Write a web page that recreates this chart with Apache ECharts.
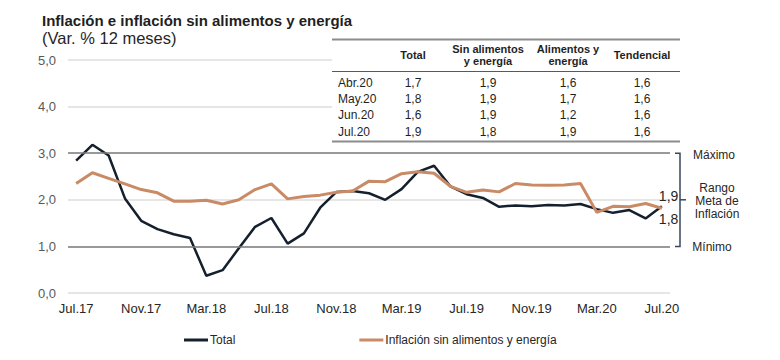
<!DOCTYPE html>
<html><head><meta charset="utf-8">
<script src="https://cdn.jsdelivr.net/npm/echarts@6.0.0/dist/echarts.min.js"></script>
<style>html,body{margin:0;padding:0;background:#fff}#c{width:780px;height:360px}</style>
</head><body><div id="c"></div>
<script>
const months = ['Jul.17','Ago.17','Set.17','Oct.17','Nov.17','Dic.17','Ene.18','Feb.18','Mar.18','Abr.18','May.18','Jun.18',
  'Jul.18','Ago.18','Set.18','Oct.18','Nov.18','Dic.18','Ene.19','Feb.19','Mar.19','Abr.19','May.19','Jun.19',
  'Jul.19','Ago.19','Set.19','Oct.19','Nov.19','Dic.19','Ene.20','Feb.20','Mar.20','Abr.20','May.20','Jun.20','Jul.20'];
const totalValues = [2.84,3.18,2.95,2.03,1.55,1.37,1.26,1.18,0.37,0.49,0.96,1.42,1.61,1.06,1.28,1.83,2.17,2.19,2.14,2.00,2.23,2.60,2.73,2.29,2.12,2.04,1.85,1.88,1.86,1.89,1.88,1.91,1.80,1.72,1.78,1.60,1.86];
const coreValues = [2.35,2.58,2.46,2.34,2.22,2.15,1.97,1.97,1.99,1.91,2.00,2.22,2.34,2.02,2.07,2.10,2.16,2.19,2.40,2.39,2.56,2.60,2.57,2.29,2.16,2.21,2.17,2.35,2.32,2.31,2.32,2.35,1.73,1.86,1.85,1.92,1.82];
const seriesNames = ['Total','Inflación sin alimentos y energía'];
const yMin = 0, yMax = 5, yStep = 1;
const rangeMax = 3, rangeMid = 2, rangeMin = 1;
const rangeLabels = ['Máximo','Rango\nMeta de\nInflación','Mínimo'];
const tableHeaders = ['Total','Sin alimentos\ny energía','Alimentos y\nenergía','Tendencial'];
const tableRows = ['Abr.20','May.20','Jun.20','Jul.20'];
const tabTotal = [1.7,1.8,1.6,1.9];
const tabSinAE = [1.9,1.9,1.9,1.8];
const tabAE = [1.6,1.7,1.2,1.9];
const tabTend = [1.6,1.6,1.6,1.6];

const FONT = 'Arial, "Liberation Sans", sans-serif';
const fmt = v => v.toFixed(1).replace('.', ',');
const chart = echarts.init(document.getElementById('c'), null, {renderer: 'svg'});

function endLabel(offset) {
  return {show: true, distance: 0, offset: offset, formatter: p => fmt(p.value),
    fontSize: 14, color: '#262626', fontFamily: FONT};
}

chart.setOption({
  animation: false,
  title: {
    text: 'Inflación e inflación sin alimentos y energía',
    subtext: '(Var. % 12 meses)',
    left: 37, top: 8, itemGap: 1,
    textStyle: {fontFamily: FONT, fontSize: 15, fontWeight: 'bold', color: '#1f1f1f'},
    subtextStyle: {fontFamily: FONT, fontSize: 16.5, color: '#262626'}
  },
  grid: {left: 68, right: 110, top: 60, bottom: 67},
  legend: {
    data: seriesNames, left: 179, top: 329, itemGap: 124, itemWidth: 24, itemHeight: 3,
    icon: 'rect',
    textStyle: {fontFamily: FONT, fontSize: 12, color: '#262626', padding: [0,0,0,-3]}
  },
  xAxis: {
    type: 'category', data: months, boundaryGap: true,
    axisLine: {show: false}, axisTick: {show: false},
    axisLabel: {interval: 3, margin: 9, fontFamily: FONT, fontSize: 13, color: '#262626'}
  },
  yAxis: {
    type: 'value', min: yMin, max: yMax, interval: yStep,
    axisLabel: {formatter: v => fmt(v), margin: 12, fontFamily: FONT, fontSize: 13, color: '#595959'},
    splitLine: {lineStyle: {color: '#e6e6e6', width: 2}}
  },
  series: [
    {name: seriesNames[0], type: 'line', data: totalValues, showSymbol: false, symbol: 'none',
      lineStyle: {color: '#15202e', width: 2.5}, itemStyle: {color: '#15202e'},
      endLabel: endLabel([-3, -10]),
      markLine: {silent: true, symbol: 'none', label: {show: false},
        lineStyle: {color: '#7f7f7f', width: 1.5, type: 'solid'},
        data: [{yAxis: rangeMax}, {yAxis: rangeMin}]}},
    {name: seriesNames[1], type: 'line', data: coreValues, showSymbol: false, symbol: 'none',
      lineStyle: {color: '#c98a66', width: 3}, itemStyle: {color: '#c98a66'},
      endLabel: endLabel([-3, 11])}
  ]
});

// overlays: table and range bracket
const yTop = chart.convertToPixel({yAxisIndex: 0}, rangeMax);
const yMid = chart.convertToPixel({yAxisIndex: 0}, rangeMid);
const yBot = chart.convertToPixel({yAxisIndex: 0}, rangeMin);
const bx = 680;
const g = [];
const tx0 = 332, tx1 = 680, tTop = 39.5, tSep = 71.5, tBot = 141.5;
g.push({type: 'rect', shape: {x: tx0, y: 34, width: tx1 - tx0, height: tBot - 34 + 1}, style: {fill: '#fff'}, z: 10});
g.push({type: 'line', shape: {x1: tx0, y1: tTop, x2: tx1, y2: tTop}, style: {stroke: '#8c8c8c', lineWidth: 2}, z: 11});
g.push({type: 'line', shape: {x1: tx0, y1: tSep, x2: tx1, y2: tSep}, style: {stroke: '#595959', lineWidth: 1}, z: 11});
g.push({type: 'line', shape: {x1: tx0, y1: tBot, x2: tx1, y2: tBot}, style: {stroke: '#8c8c8c', lineWidth: 2}, z: 11});
const colX = [413, 488, 568, 642];
tableHeaders.forEach((h, i) => g.push({type: 'text', x: colX[i], y: 55, z: 12,
  style: {text: h, align: 'center', verticalAlign: 'middle', font: 'bold 11px ' + FONT, fill: '#1f1f1f', lineHeight: 12}}));
const rowY = [82.7, 98.8, 115.2, 132];
const cols = [tabTotal, tabSinAE, tabAE, tabTend];
tableRows.forEach((r, j) => {
  g.push({type: 'text', x: 338, y: rowY[j], z: 12,
    style: {text: r, align: 'left', verticalAlign: 'middle', font: '12px ' + FONT, fill: '#1f1f1f'}});
  cols.forEach((c, i) => g.push({type: 'text', x: colX[i], y: rowY[j], z: 12,
    style: {text: fmt(c[j]), align: 'center', verticalAlign: 'middle', font: '12px ' + FONT, fill: '#1f1f1f'}}));
});
g.push({type: 'polyline', shape: {points: [[bx - 5, yTop], [bx, yTop], [bx, yBot], [bx - 5, yBot]]},
  style: {stroke: '#3a4763', lineWidth: 1.5, fill: null}, z: 11});
g.push({type: 'line', shape: {x1: bx, y1: yMid, x2: bx + 6, y2: yMid}, style: {stroke: '#3a4763', lineWidth: 1.5}, z: 11});
g.push({type: 'text', x: 714, y: yTop + 2, z: 12, style: {text: rangeLabels[0], align: 'center', verticalAlign: 'middle', font: '12px ' + FONT, fill: '#262626'}});
g.push({type: 'text', x: 717, y: yMid + 1, z: 12, style: {text: rangeLabels[1], align: 'center', verticalAlign: 'middle', font: '12px ' + FONT, fill: '#262626', lineHeight: 13}});
g.push({type: 'text', x: 712, y: yBot + 1, z: 12, style: {text: rangeLabels[2], align: 'center', verticalAlign: 'middle', font: '12px ' + FONT, fill: '#262626'}});
chart.setOption({graphic: g});
</script>
</body></html>
